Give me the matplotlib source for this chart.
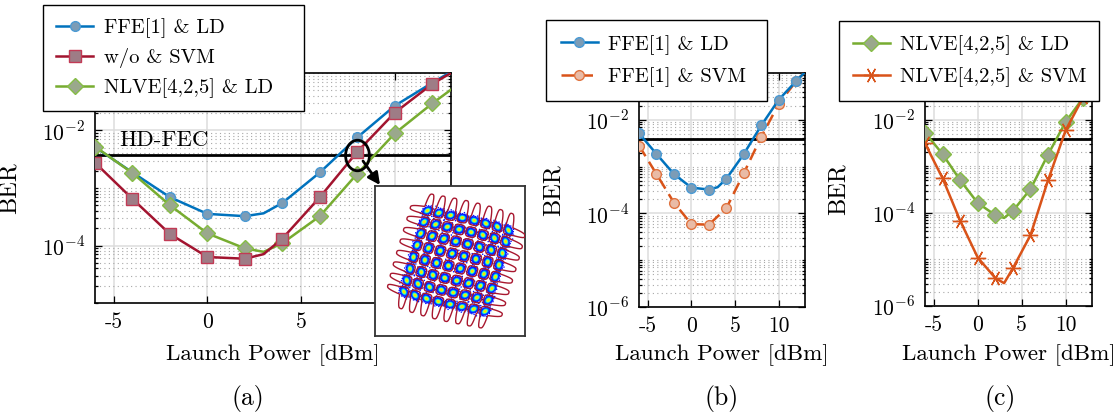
import numpy as np
import matplotlib
matplotlib.use("Agg")
import matplotlib.pyplot as plt
from matplotlib.path import Path
from matplotlib.transforms import Affine2D
from matplotlib.markers import MarkerStyle
from matplotlib.ticker import FixedLocator, NullFormatter

plt.rcParams["font.family"] = "cmr10"
plt.rcParams["mathtext.fontset"] = "cm"
plt.rcParams["axes.unicode_minus"] = False
plt.rcParams["font.size"] = 16

# ---------------- data (BER given as log10) ----------------
x_ffe_ld = [-6, -4, -2, 0, 2, 3, 4, 6, 8, 10, 12, 13]
ber_ffe_ld = [-2.29, -2.73, -3.16, -3.45, -3.49, -3.44, -3.26, -2.73, -2.12, -1.57, -1.17, -0.98]

x_wo_svm = [-6, -4, -2, 0, 2, 3, 4, 6, 8, 10, 12, 13]
ber_wo_svm = [-2.56, -3.19, -3.80, -4.20, -4.23, -4.15, -3.88, -3.16, -2.37, -1.69, -1.19, -1.0]

x_ffe_svm = [-6, -4, -2, 0, 2, 4, 6, 8, 10, 12, 13]
ber_ffe_svm = [-2.55, -3.16, -3.77, -4.23, -4.24, -3.89, -3.14, -2.36, -1.66, -1.17, -0.98]

x_nlve_ld = [-6, -4, -2, 0, 2, 3, 4, 6, 8, 10, 12, 13]
ber_nlve_ld = [-2.28, -2.74, -3.30, -3.79, -4.05, -4.11, -3.96, -3.49, -2.75, -2.05, -1.53, -1.29]

x_nlve_svm = [-6, -4, -2, 0, 2, 3, 4, 6, 8, 10, 12, 13]
ber_nlve_svm = [-2.51, -3.26, -4.17, -4.96, -5.40, -5.51, -5.19, -4.48, -3.30, -2.23, -1.52, -1.18]

hd_fec = 3.8e-3
x_ticks = [-5, 0, 5, 10]
x_ticklabels = ["-5", "0", "5", "10"]
y_ticks = [1e-6, 1e-4, 1e-2]
y_ticklabels = [r"$10^{-6}$", r"$10^{-4}$", r"$10^{-2}$"]

# ---------------- styles ----------------
C_BLUE, C_BLUE_F, C_BLUE_E = "#0072BD", "#7c9cb6", "#4a9ad4"
C_RED, C_RED_F, C_RED_E = "#A2142F", "#9e7c86", "#c23a55"
C_GREEN, C_GREEN_F, C_GREEN_E = "#77AC30", "#9aa88c", "#86bd45"
C_ORANGE, C_ORANGE_F, C_ORANGE_E = "#D95319", "#e9bba6", "#e0733f"
LW = 1.8
STAR = MarkerStyle((6, 2, 90))
FS_XLAB = 16.6
FS_YLAB = 17.5
FS_TICK = 15.5
FS_LEG = 14.8
FS_CAP = 18.5

W, H = 1117, 415
fig = plt.figure(figsize=(W / 100, H / 100), dpi=100)


def px_axes(left, right, top, bottom):
    return fig.add_axes([left / W, 1 - bottom / H, (right - left) / W, (bottom - top) / H])


def even_idx(xs):
    return [i for i, v in enumerate(xs) if v % 2 == 0 and v <= 12]


def series(ax, xs, logy, **kw):
    ys = [10 ** v for v in logy]
    return ax.plot(xs, ys, markevery=even_idx(xs), **kw)[0]


def style_axes(ax, ylo, xlab_frac, ylab_frac):
    ax.set_yscale("log")
    ax.set_xlim(-6, 13)
    ax.set_xticks(x_ticks)
    ax.set_xticklabels(x_ticklabels)
    ax.set_yticks(y_ticks)
    ax.set_yticklabels(y_ticklabels)
    minors = [m * 10.0 ** e for e in range(-7, 0) for m in range(1, 10)
              if not (m == 1 and e in (-6, -4, -2))]
    ax.yaxis.set_minor_locator(FixedLocator(minors))
    ax.yaxis.set_minor_formatter(NullFormatter())
    ax.set_ylim(ylo, 1e-1)
    ax.tick_params(which="both", direction="in", top=True, right=True, width=0.9)
    ax.tick_params(which="major", length=5, labelsize=FS_TICK, pad=7)
    ax.tick_params(which="minor", length=2.5)
    ax.grid(True, which="major", color="#dcdcdc", lw=1.1, ls="-")
    ax.grid(True, which="minor", axis="y", color="#a8a8a8", lw=0.8, ls=(0, (1, 3)))
    ax.set_axisbelow(True)
    for s in ax.spines.values():
        s.set_linewidth(1.2)
    ax.set_xlabel("Launch Power [dBm]", fontsize=FS_XLAB)
    ax.set_ylabel("BER", fontsize=FS_YLAB)
    ax.xaxis.set_label_coords(0.5, xlab_frac)
    ax.xaxis.label.set_va("center")
    ax.yaxis.set_label_coords(ylab_frac, 0.5)
    ax.axhline(hd_fec, color="k", lw=2, zorder=2.5)


def legend(ax, handles, x0, x1, y0, spacing, pad):
    # box spans x0..x1 (figure pixels), top edge at y0
    lg = ax.legend(handles=handles, loc="upper left", mode="expand",
                   bbox_to_anchor=(x0 / W, 1 - y0 / H - 0.01, (x1 - x0) / W, 0.01),
                   bbox_transform=fig.transFigure,
                   borderaxespad=0, fancybox=False, framealpha=1, edgecolor="k",
                   fontsize=FS_LEG, handlelength=1.8, handletextpad=0.5,
                   labelspacing=spacing, borderpad=pad, numpoints=1)
    lg.get_frame().set_linewidth(1.0)
    lg.set_zorder(10)
    return lg


# ---------------- (a) ----------------
axa = px_axes(95, 451, 73, 303)
style_axes(axa, 1e-5, -(355 - 303) / 230, -0.21)
h_blue = series(axa, x_ffe_ld, ber_ffe_ld, color=C_BLUE, lw=LW, marker="o", ms=7,
                mfc=C_BLUE_F, mec=C_BLUE_E, mew=1.0, label="FFE[1] & LD", zorder=3)
h_green = series(axa, x_nlve_ld, ber_nlve_ld, color=C_GREEN, lw=LW, marker="D", ms=8.5,
                 mfc=C_GREEN_F, mec=C_GREEN_E, mew=1.0, label="NLVE[4,2,5] & LD", zorder=3.2)
h_red = series(axa, x_wo_svm, ber_wo_svm, color=C_RED, lw=LW, marker="s", ms=9,
               mfc=C_RED_F, mec=C_RED_E, mew=1.0, label="w/o & SVM", zorder=3.4)
axa.text(-4.7, 10 ** -2.17, "HD-FEC", fontsize=16.5, va="center", ha="left", zorder=4)
legend(axa, [h_blue, h_red, h_green], 43, 304, 5, 0.49, 0.65)

# highlighted operating point
ell = Path.unit_circle().transformed(Affine2D().scale(0.78, 1.0))
axa.plot([8], [10 ** -2.42], marker=MarkerStyle(ell), ms=22, mfc="none", mec="k", mew=2.0,
         zorder=6, clip_on=False)
axa.annotate("", xy=(380, H - 185), xycoords="figure pixels",
             xytext=(363, H - 161), textcoords="figure pixels",
             arrowprops=dict(arrowstyle="-|>", color="k", lw=2, mutation_scale=18,
                             shrinkA=0, shrinkB=0), zorder=7)

# inset: received 64-QAM constellation with SVM decision boundaries
axi = px_axes(375, 525, 186, 336)
axi.set_xticks([])
axi.set_yticks([])
for s in axi.spines.values():
    s.set_linewidth(1.3)
    s.set_color("#333333")
axi.set_xlim(-6.5, 5.5)
axi.set_ylim(-6, 6)
axi.set_zorder(8)

rot = np.deg2rad(-15)


def warp(u, v):
    xr = u * np.cos(rot) - v * np.sin(rot)
    yr = u * np.sin(rot) + v * np.cos(rot)
    r2 = (xr ** 2 + yr ** 2) / 30.0
    # mild non-linear bending of the grid
    xr = xr + 0.08 * np.sin(0.5 * yr)
    yr = yr + 0.10 * np.sin(0.45 * xr)
    return xr * (1 - 0.05 * r2), yr * (1 - 0.05 * r2)


levels = np.arange(-3.5, 4.0, 1.0)
n_pts = 160
k = np.arange(n_pts)
sig = 0.16
rad = sig * np.sqrt(-2 * np.log(1 - (k + 0.5) / n_pts))
ang = k * np.pi * (3 - np.sqrt(5))
px, py, pc = [], [], []
for cu in levels:
    for cv in levels:
        rc = np.hypot(cu, cv)
        t = np.arctan2(cv, cu)
        a_r = rad * np.cos(ang)
        a_t = rad * np.sin(ang) * (1 + 0.10 * rc)
        du = a_r * np.cos(t) - a_t * np.sin(t)
        dv = a_r * np.sin(t) + a_t * np.cos(t)
        wx, wy = warp(cu + du, cv + dv)
        px.append(wx)
        py.append(wy)
        pc.append(0.14 + 0.55 * np.exp(-1.6 * (rad / sig) ** 2))
px = np.concatenate(px)
py = np.concatenate(py)
pc = np.concatenate(pc)
order = np.argsort(pc)
axi.scatter(px[order], py[order], c=pc[order], cmap="jet", vmin=0, vmax=1, s=1.2,
            linewidths=0, zorder=2)

g = np.linspace(-9, 9, 500)
GU, GV = np.meshgrid(g, g)


def cell_offset(q):
    idx = np.clip(np.round(q + 3.5), 0, 7)
    d = q - (idx - 3.5)
    outer = ((idx == 0) & (d < 0)) | ((idx == 7) & (d > 0))
    ad = np.abs(d)
    ad = np.where(outer & (ad > 0.35), 0.35 + 0.05 * (ad - 0.35), ad)
    return ad


F = (cell_offset(GU) ** 3.5 + cell_offset(GV) ** 3.5) ** (1 / 3.5)
GX, GY = warp(GU, GV)
axi.contour(GX, GY, F, levels=[0.41], colors="#a8182f", linewidths=1.0, zorder=3)

# ---------------- (b) ----------------
axb = px_axes(639, 805, 73, 307)
style_axes(axb, 1e-6, -(355 - 307) / 234, -0.45)
hb1 = series(axb, x_ffe_ld, ber_ffe_ld, color=C_BLUE, lw=LW, marker="o", ms=7,
             mfc=C_BLUE_F, mec=C_BLUE_E, mew=1.0, label="FFE[1] & LD", zorder=3.2)
hb2 = series(axb, x_ffe_svm, ber_ffe_svm, color=C_ORANGE, lw=LW, ls=(0, (5, 2.6)),
             marker="o", ms=7, mfc=C_ORANGE_F, mec=C_ORANGE_E, mew=1.0,
             label="FFE[1] & SVM", zorder=3)
legend(axb, [hb1, hb2], 546, 767, 20, 0.6, 0.72)

# ---------------- (c) ----------------
axc = px_axes(925, 1092, 73, 306)
style_axes(axc, 1e-6, -(355 - 306) / 233, -0.45)
hc1 = series(axc, x_nlve_ld, ber_nlve_ld, color=C_GREEN, lw=LW, marker="D", ms=8.5,
             mfc=C_GREEN_F, mec=C_GREEN_E, mew=1.0, label="NLVE[4,2,5] & LD", zorder=3)
hc2 = series(axc, x_nlve_svm, ber_nlve_svm, color=C_ORANGE, lw=LW, marker=STAR, ms=11,
             mec=C_ORANGE, mew=1.0, label="NLVE[4,2,5] & SVM", zorder=3.2)
legend(axc, [hc1, hc2], 839, 1099, 21, 0.6, 0.68)

# panel captions
for xc, s in [(248, "(a)"), (722, "(b)"), (1000, "(c)")]:
    fig.text(xc / W, 1 - 398 / H, s, ha="center", va="center", fontsize=FS_CAP)

fig.savefig("out.png", dpi=100)
